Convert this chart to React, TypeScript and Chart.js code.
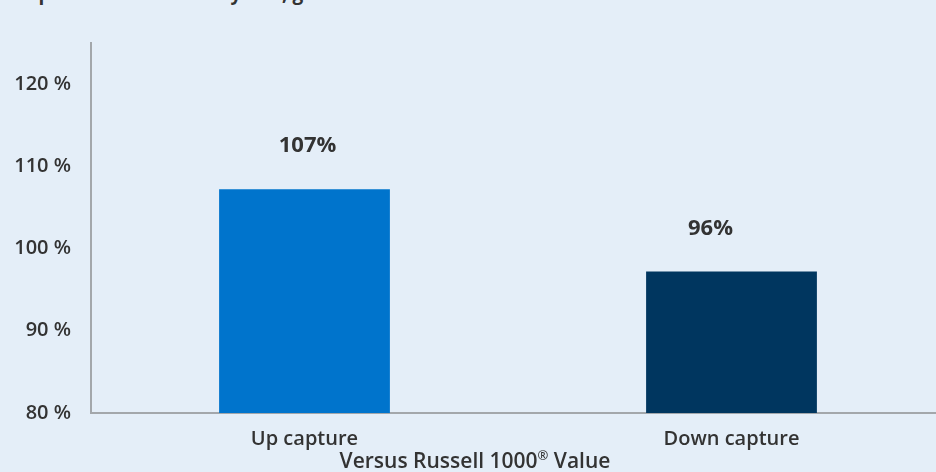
import React, { useEffect, useRef } from "react";
import { Chart, registerables } from "chart.js";

Chart.register(...registerables);

const categories = ["Up capture", "Down capture"];
const captureValues = [107.2, 97.2];
const valueLabels = ["107%", "96%"];
const yTicks = [80, 90, 100, 110, 120];
const axisTitleParts = ["Versus Russell 1000", "®", " Value"];
const headingText = "Capture ratios over 10 years, gross of fees";

const BG = "#E4EEF8";
const TEXT = "#333333";
const FONT = "'Open Sans', 'Noto Sans', sans-serif";

const labelPlugin = {
  id: "valueLabels",
  afterDatasetsDraw(chart: any) {
    const ctx = chart.ctx;
    const meta = chart.getDatasetMeta(0);
    const nudges = [3, -21];
    ctx.save();
    ctx.font = `700 22px ${FONT}`;
    ctx.fillStyle = TEXT;
    ctx.textAlign = "center";
    ctx.textBaseline = "alphabetic";
    meta.data.forEach((bar: any, i: number) => {
      ctx.fillText(valueLabels[i], bar.x + nudges[i], bar.y - 37);
    });
    // axis title with superscript ®
    const mainFont = `600 21px ${FONT}`;
    const supFont = `600 13px ${FONT}`;
    ctx.textAlign = "left";
    ctx.font = mainFont;
    const w0 = ctx.measureText(axisTitleParts[0]).width;
    const w2 = ctx.measureText(axisTitleParts[2]).width;
    ctx.font = supFont;
    const w1 = ctx.measureText(axisTitleParts[1]).width;
    const total = w0 + w1 + w2;
    let x = chart.width / 2 - total / 2;
    const base = 468;
    ctx.font = mainFont;
    ctx.fillText(axisTitleParts[0], x, base);
    x += w0;
    ctx.font = supFont;
    ctx.fillText(axisTitleParts[1], x, base - 8);
    x += w1;
    ctx.font = mainFont;
    ctx.fillText(axisTitleParts[2], x, base);
    ctx.restore();
  },
};

export default function App() {
  const ref = useRef<HTMLCanvasElement | null>(null);

  useEffect(() => {
    document.body.style.margin = "0";
    document.body.style.overflow = "hidden";
    document.body.style.background = BG;
    if (!ref.current) return;
    const chart = new Chart(ref.current, {
      type: "bar",
      data: {
        labels: categories,
        datasets: [
          {
            data: captureValues,
            backgroundColor: ["#0074CC", "#00365F"],
            barPercentage: 0.4,
            categoryPercentage: 1,
          },
        ],
      },
      options: {
        animation: false,
        responsive: false,
        maintainAspectRatio: false,
        layout: { padding: { top: 43, right: 5, left: 0, bottom: 0 } },
        plugins: {
          legend: { display: false },
          tooltip: { enabled: false },
          title: { display: false },
        },
        scales: {
          x: {
            grid: { display: false },
            border: { display: true, color: "#A3A7AB", width: 2 },
            ticks: {
              color: TEXT,
              font: { family: FONT, size: 20, weight: "600" as any },
              padding: 6,
            },
            afterFit(scale: any) {
              scale.height = 59;
            },
          },
          y: {
            min: 80,
            max: 125,
            grid: { display: false },
            border: { display: true, color: "#A3A7AB", width: 2 },
            ticks: {
              stepSize: 10,
              color: TEXT,
              font: { family: FONT, size: 20, weight: "600" as any },
              padding: 12,
              callback: (v: any) => `${v} %`,
            },
            afterBuildTicks(scale: any) {
              scale.ticks = yTicks.map((v) => ({ value: v }));
            },
            afterFit(scale: any) {
              scale.width = 91;
            },
          },
        },
      },
      plugins: [labelPlugin],
    });
    return () => chart.destroy();
  }, []);

  return (
    <div style={{ position: "relative", width: 936, height: 472, overflow: "hidden", background: BG }}>
      <div
        style={{
          position: "absolute",
          left: 15,
          top: -18,
          font: `700 19px ${FONT}`,
          color: TEXT,
          whiteSpace: "nowrap",
          lineHeight: "22px",
        }}
      >
        {headingText}
      </div>
      <canvas ref={ref} width={950} height={472} style={{ position: "absolute", left: 0, top: 0, width: 950, height: 472 }} />
    </div>
  );
}
